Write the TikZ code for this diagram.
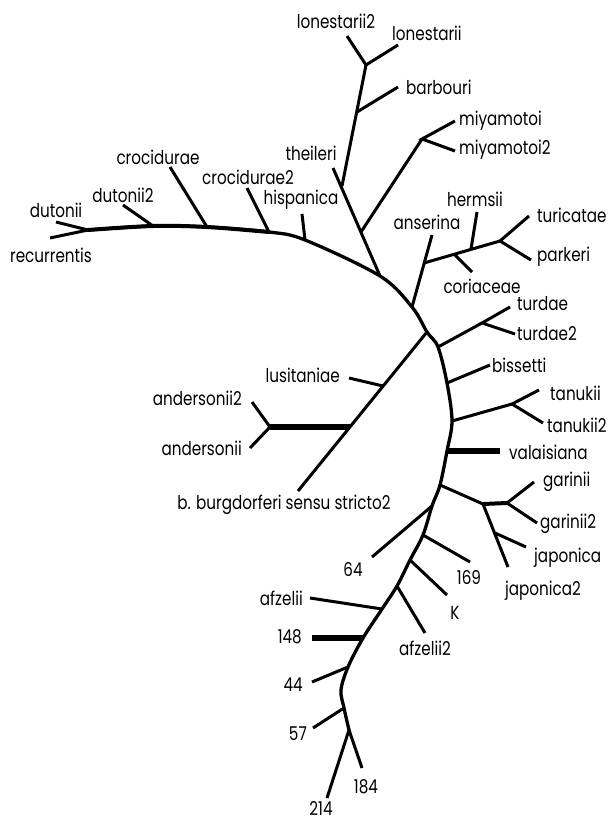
\documentclass[tikz,border=0pt]{standalone}
\usepackage{fontspec}
\setmainfont{Poppins}[FakeStretch=0.8]
\begin{document}
\begin{tikzpicture}[x=1pt,y=-1pt,
  br/.style={line width=3pt},
  bb/.style={line width=3.3pt,line cap=round},
  thk/.style={line width=5.5pt},
  lab/.style={inner sep=0pt,font=\fontsize{19}{22}\selectfont},
  labl/.style={lab,anchor=east},
  labr/.style={lab,anchor=west}]
\useasboundingbox (0,0) rectangle (610,821);
% backbone coordinates
\coordinate (R0) at (88,230);
\coordinate (D2) at (153,226);
\coordinate (C1) at (207,227);
\coordinate (C2) at (269,232);
\coordinate (H) at (305,240);
\coordinate (T) at (380,276);
\coordinate (A) at (412,307);
\coordinate (B) at (427,332);
\coordinate (TD) at (438,347);
\coordinate (BI) at (447,383);
\coordinate (TK) at (452,421);
\coordinate (V) at (447,451);
\coordinate (G) at (440,485);
\coordinate (S64) at (432,506);
\coordinate (S169) at (423,535);
\coordinate (SK) at (410,560);
\coordinate (SA2) at (397,586);
\coordinate (SA) at (382,609);
\coordinate (S148) at (363,638);
\coordinate (S44) at (348,667);
\coordinate (MID) at (341,690);
\coordinate (S57) at (344,708);
\coordinate (E) at (349,730);
% internal junctions
\coordinate (L0) at (342,186);
\coordinate (L1) at (366,65);
\coordinate (LB) at (357,112);
\coordinate (M0) at (361,232);
\coordinate (M1) at (422,139);
\coordinate (A1) at (424,263);
\coordinate (AH) at (471,249);
\coordinate (AC) at (454,254);
\coordinate (AF) at (500,241);
\coordinate (BL) at (383,386);
\coordinate (BA) at (350,427);
\coordinate (AN) at (270,427);
\coordinate (TD1) at (482,323);
\coordinate (TK1) at (512,404);
\coordinate (G1) at (483,504);
\coordinate (G2) at (507,503);
\coordinate (GJ) at (495,533);
% tips
\coordinate (trec) at (50,238);
\coordinate (tdut) at (56,222);
\coordinate (tdut2) at (123,205);
\coordinate (tcro) at (170,167);
\coordinate (tcro2) at (247,188);
\coordinate (this) at (302,214);
\coordinate (tthe) at (333,168);
\coordinate (tlon2) at (347,36);
\coordinate (tlon) at (398,45);
\coordinate (tbar) at (398,87);
\coordinate (tmiy) at (455,121);
\coordinate (tmiy2) at (455,151);
\coordinate (tans) at (432,235);
\coordinate (ther) at (477,212);
\coordinate (tcor) at (472,272);
\coordinate (ttur) at (529,216);
\coordinate (tpar) at (531,260);
\coordinate (tturd) at (510,307);
\coordinate (tturd2) at (515,334);
\coordinate (tbis) at (490,365);
\coordinate (ttan) at (539,390);
\coordinate (ttan2) at (543,423);
\coordinate (tval) at (500,451);
\coordinate (tgar) at (534,482);
\coordinate (tgar2) at (537,523);
\coordinate (tjap) at (526,547);
\coordinate (tjap2) at (508,567);
\coordinate (tlus) at (349,378);
\coordinate (tand2) at (252,402);
\coordinate (tand) at (250,448);
\coordinate (tbur) at (298,491);
\coordinate (t64) at (372,557);
\coordinate (t169) at (470,562);
\coordinate (tK) at (447,595);
\coordinate (tafz2) at (425,633);
\coordinate (tafz) at (310,598);
\coordinate (t148) at (312,638);
\coordinate (t44) at (312,682);
\coordinate (t57) at (313,728);
\coordinate (t184) at (362,768);
\coordinate (t214) at (327,798);
% backbone
\draw[bb] plot[smooth,tension=0.55] coordinates {(R0) (D2) (C1) (C2) (H) (T) (A) (B) (TD) (BI) (TK) (V) (G) (S64) (S169) (SK) (SA2) (SA) (S148) (S44) (MID) (S57) (E)};
\draw[line width=4pt,line cap=round] plot[smooth,tension=0.55] coordinates {(R0) (D2) (C1) (C2)};
% branches
\draw[br] (trec) -- (R0) -- (tdut);
\draw[br] (D2) -- (tdut2);
\draw[br] (C1) -- (tcro);
\draw[br] (C2) -- (tcro2);
\draw[br] (H) -- (this);
\draw[br] (T) -- (tthe);
\draw[br] (L0) -- (L1);
\draw[br] (tlon2) -- (L1) -- (tlon);
\draw[br] (LB) -- (tbar);
\draw[br] (M0) -- (M1);
\draw[br] (tmiy) -- (M1) -- (tmiy2);
\draw[br] (A) -- (tans);
\draw[br] (A1) -- (AF);
\draw[br] (AH) -- (ther);
\draw[br] (AC) -- (tcor);
\draw[br] (ttur) -- (AF) -- (tpar);
\draw[br] (B) -- (tbur);
\draw[br] (BL) -- (tlus);
\draw[thk] (BA) -- (AN);
\draw[br] (tand2) -- (AN) -- (tand);
\draw[br] (TD) -- (TD1);
\draw[br] (tturd) -- (TD1) -- (tturd2);
\draw[br] (BI) -- (tbis);
\draw[br] (TK) -- (TK1);
\draw[br] (ttan) -- (TK1) -- (ttan2);
\draw[thk] (V) -- (tval);
\draw[br] (G) -- (G1);
\draw[line width=4pt] (G1) -- (G2);
\draw[br] (tgar) -- (G2) -- (tgar2);
\draw[br] (G1) -- (tjap2);
\draw[br] (GJ) -- (tjap);
\draw[br] (S64) -- (t64);
\draw[br] (S169) -- (t169);
\draw[br] (SK) -- (tK);
\draw[br] (SA2) -- (tafz2);
\draw[br] (SA) -- (tafz);
\draw[thk] (S148) -- (t148);
\draw[br] (S44) -- (t44);
\draw[br] (S57) -- (t57);
\draw[br] (t184) -- (E) -- (t214);
% labels
\node[lab] (nlon2) at (336,21) {lonestarii2};
\node[labr] (nlon) at (392,33) {lonestarii};
\node[labr] (nbar) at (406,87) {barbouri};
\node[labr] (nmiy) at (459,121) {miyamotoi};
\node[labr] (nmiy2) at (459,150) {miyamotoi2};
\node[lab] (nthe) at (311,153) {theileri};
\node[lab] (ncro) at (158,157) {crocidurae};
\node[lab] (ncro2) at (248,177) {crocidurae2};
\node[lab] (nhis) at (301,200) {hispanica};
\node[lab] (ndut2) at (123,195) {dutonii2};
\node[lab] (ndut) at (56,210) {dutonii};
\node[lab] (nrec) at (51,255) {recurrentis};
\node[lab] (nans) at (427,222) {anserina};
\node[lab] (nher) at (475,199) {hermsii};
\node[labr] (ntur) at (537,215) {turicatae};
\node[labr] (npar) at (537,257) {parkeri};
\node[lab] (ncor) at (482,286) {coriaceae};
\node[labr] (nturd) at (517,304) {turdae};
\node[labr] (nturd2) at (517,334) {turdae2};
\node[labr] (nbis) at (492,365) {bissetti};
\node[labr] (ntan) at (550,393) {tanukii};
\node[labr] (ntan2) at (547,425) {tanukii2};
\node[labr] (nval) at (509,452) {valaisiana};
\node[labr] (ngar) at (543,482) {garinii};
\node[labr] (ngar2) at (540,524) {garinii2};
\node[labr] (njap) at (534,558) {japonica};
\node[lab] (njap2) at (543,591) {japonica2};
\node[lab] (n169) at (469,578) {169};
\node[lab] (nK) at (455,613) {K};
\node[lab] (n64) at (353,570) {64};
\node[labl] (nafz) at (303,598) {afzelii};
\node[lab] (nafz2) at (425,648) {afzelii2};
\node[labl] (n148) at (302,637) {148};
\node[labl] (n44) at (303,685) {44};
\node[labl] (n57) at (307,734) {57};
\node[lab] (n184) at (366,787) {184};
\node[lab] (n214) at (321,808) {214};
\node[labl] (nlus) at (340,375) {lusitaniae};
\node[labl] (nand2) at (242,398) {andersonii2};
\node[labl] (nand) at (242,448) {andersonii};
\node[lab] (nbur) at (284,505) {b. burgdorferi sensu stricto2};
\end{tikzpicture}
\end{document}
